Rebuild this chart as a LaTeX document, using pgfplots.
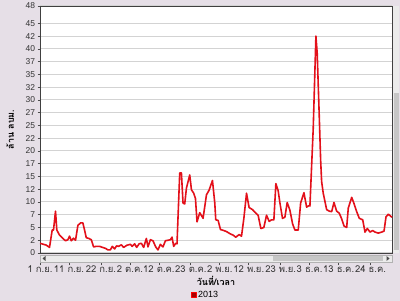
\documentclass[border=0pt]{standalone}
\usepackage{pgfplots}
\pgfplotsset{compat=1.18}
\usepackage{fontspec}
\setmainfont{Liberation Sans}
\newfontfamily\thai[Script=Thai]{Loma}
\definecolor{bg}{HTML}{E6DFE7}
\definecolor{gridc}{HTML}{D3D3D3}
\definecolor{linec}{HTML}{E3101A}
\definecolor{framec}{HTML}{404040}
\pgfplotstableread{
d v
0 1.9
2.14 1.55
3.28 1.1
4.21 4.5
4.66 4.5
5.35 8.2
5.80 4.5
6.74 3.5
7.88 2.85
8.81 2.4
9.60 2.6
10.19 3.3
10.78 2.4
11.57 2.9
12.26 2.5
13.06 5.4
13.99 5.9
14.78 5.9
15.37 4.5
15.96 3.0
16.86 2.85
17.69 2.6
18.48 1.2
19.41 1.3
20.55 1.3
21.59 1.1
22.63 0.9
23.42 0.6
24.25 0.6
24.94 1.3
25.73 0.8
26.42 1.4
27.1 1.3
28.05 1.6
28.84 1.1
29.9 1.5
31.16 1.7
31.8 1.3
32.64 1.8
33.33 1.1
34.2 1.8
34.96 1.9
35.75 1.1
36.68 2.85
37.24 1.2
38.07 2.6
38.96 2.4
39.90 1.2
40.69 0.6
41.52 1.7
42.42 1.2
43.25 2.4
44.15 2.5
44.97 2.6
45.53 3.1
46.11 1.3
46.80 1.9
47.25 1.8
48.19 15.7
48.77 15.7
49.33 9.8
49.91 9.6
50.50 12.7
51.64 15.3
52.23 12.4
53.02 11.7
53.61 10.7
54.16 6.1
55.09 7.9
56.24 6.8
57.41 11.4
58.31 12.3
59.48 14.2
60.28 9.8
60.62 6.5
61.42 6.4
62.25 4.6
63.39 4.4
64.32 4.2
65.46 3.8
66.60 3.5
67.53 3.1
67.98 3.3
68.67 3.6
69.50 3.3
70.29 6.7
71.23 11.7
72.12 8.9
73.30 8.5
74.09 8.0
75.23 7.4
76.17 4.8
77.20 5.0
78.13 7.4
79.03 6.2
79.86 6.5
80.66 6.5
81.35 13.6
82.14 12.2
82.72 9.9
83.63 6.8
84.46 7.0
85.25 9.9
86.18 8.4
87.12 5.7
87.91 4.5
89.06 4.5
89.89 9.8
91.03 11.8
91.95 9.0
92.85 9.3
93.09 9.2
94.23 24.4
94.82 35.9
95.16 42.5
95.61 39.1
96.30 27.0
96.79 18.2
97.13 14.0
97.69 11.7
98.86 8.5
99.76 8.2
100.59 8.1
101.38 9.9
102.31 8.2
103.21 7.8
104.04 6.7
104.84 5.3
105.77 5.0
106.32 8.8
107.50 10.9
108.29 9.7
109.22 8.1
110.12 6.8
111.30 6.5
112.09 4.1
112.88 4.8
113.82 4.1
114.75 4.4
115.54 4.1
116.68 3.9
117.86 4.1
118.65 4.3
119.34 7.1
120.14 7.6
120.97 7.2
121.4 7.0
}\datatable
\begin{document}
\begin{tikzpicture}[x=1bp,y=1bp]
\useasboundingbox (0,0) rectangle (400,301);
\fill[bg] (0,0) rectangle (400,301);
% horizontal scrollbar
\fill[white!92!black] (40,39) rectangle (392,46);
\fill[gray!45] (273,39.5) rectangle (383,45.5);
\draw[gray!60] (40,39) rectangle (392,46);
\fill[black!70] (45.5,40) -- (42.5,42.5) -- (45.5,45) -- cycle;
\fill[black!70] (386.5,40) -- (389.5,42.5) -- (386.5,45) -- cycle;
% vertical scrollbar
\fill[white!92!black] (393,48) rectangle (399,295);
\fill[gray!45] (393.5,51) rectangle (398.5,208);
\begin{axis}[
  at={(40bp,48bp)}, anchor=south west,
  scale only axis, width=352bp, height=247bp,
  xmin=0, xmax=121.4, ymin=0, ymax=48.4,
  axis background/.style={fill=white},
  axis line style={framec, line width=0.8bp},
  ytick={0,2.5,5,7.5,10,12.5,15,17.5,20,22.5,25,27.5,30,32.5,35,37.5,40,42.5,45,48.4},
  yticklabels={0,2,5,7,10,12,15,17,20,22,25,27,30,32,35,37,40,42,45,48},
  xtick={0,10,21,31,41,52,62,72,83,93,103,114},
  xticklabels={{\thai 1 ก.ย.},{\thai 11 ก.ย.},{\thai 22 ก.ย.},{\thai 2 ต.ค.},{\thai 12 ต.ค.},{\thai 23 ต.ค.},{\thai 2 พ.ย.},{\thai 12 พ.ย.},{\thai 23 พ.ย.},{\thai 3 ธ.ค.},{\thai 13 ธ.ค.},{\thai 24 ธ.ค.}},
  ymajorgrids, grid style={gridc, line width=1bp},
  tick align=outside, major tick length=2.5bp,
  tick style={black!70, line width=0.6bp},
  xtick style={yshift=-10bp},
  xtick pos=bottom, ytick pos=left,
  /pgf/number format/assume math mode=true,
  yticklabel style={font=\fontsize{8.5}{9}\selectfont, color=black!80, xshift=1bp},
  xticklabel style={font=\fontsize{9.5}{10}\selectfont, color=black!80, anchor=center, yshift=-14bp},
  xlabel={\thai\bfseries วันที่/เวลา},
  xlabel style={at={(axis description cs:0.5,-0.113)}, anchor=center, font=\fontsize{9}{10}\selectfont},
  ylabel={\thai\bfseries ล้าน ลบม.},
  ylabel style={at={(axis description cs:-0.085,0.5)}, anchor=center, rotate=0, font=\fontsize{9}{10}\selectfont},
  legend style={at={(axis description cs:0.47,-0.17)}, anchor=center, draw=none, fill=none, font=\fontsize{9}{10}\selectfont, inner sep=0pt},
  legend image code/.code={\draw[fill=red!65!black, draw=red, line width=0.5bp] (0bp,-2.5bp) rectangle (5bp,2.5bp);},
  clip=false,
]
\addplot[linec, line width=1.6bp, line join=round] table[x=d, y=v] {\datatable};
\addlegendentry{2013}
\end{axis}
\end{tikzpicture}
\end{document}
